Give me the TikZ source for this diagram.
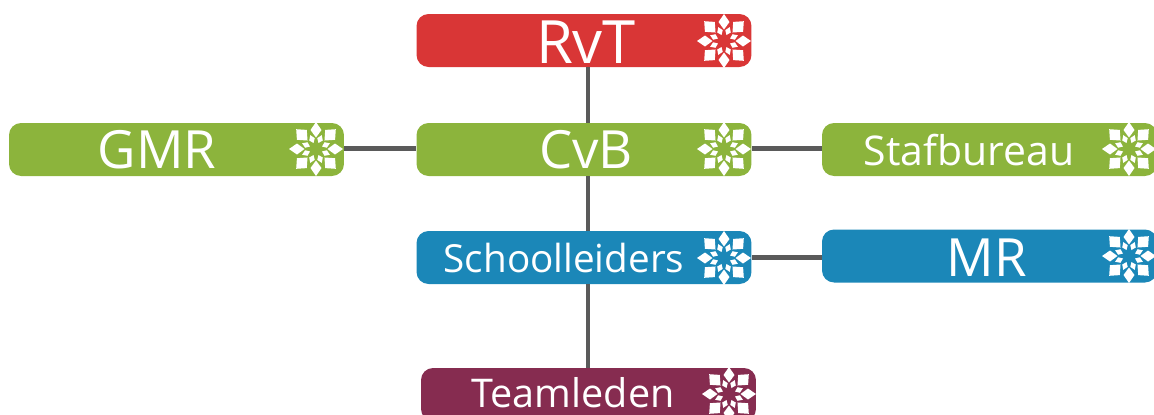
\documentclass[tikz,border=0pt]{standalone}
\usepackage{fontspec}
\setmainfont{Open Sans}
\definecolor{rvtred}{HTML}{D93636}
\definecolor{orggreen}{HTML}{8CB43C}
\definecolor{orgblue}{HTML}{1B87B8}
\definecolor{teampurple}{HTML}{862C50}
\definecolor{linkgrey}{HTML}{5A5A5A}
\tikzset{
  orgbox/.style={minimum width=6.7cm,minimum height=1.06cm,rounded corners=0.24cm,inner sep=0pt},
  bigtext/.style={text=white,inner sep=0pt,font=\fontsize{30}{30}\selectfont},
  smalltext/.style={text=white,inner sep=0pt,font=\fontsize{22}{22}\selectfont},
  link/.style={draw=linkgrey,line width=2.4pt},
  flake/.pic={
    \foreach \a in {0,90,180,270} {
      \fill[white,rotate=\a] (0,-27) -- (5.5,-19) -- (0,-11.5) -- (-5.5,-19) -- cycle;
      \fill[white,rotate=\a+45] (0,-28) -- (7,-20) -- (0,-12) -- (-7,-20) -- cycle;
    }
    \foreach \a in {0,45,...,315} {
      \fill[white,rotate=\a+22.5] (0,-15) -- (3,-10.5) -- (0,-6.5) -- (-3,-10.5) -- cycle;
    }
  }
}
\begin{document}
\begin{tikzpicture}[x=0.02cm,y=-0.02cm]
  \useasboundingbox (0,0) rectangle (1154,414);
  \clip (0,0) rectangle (1154,414);
  \coordinate (trunk) at (588,0);
  % boxes
  \node[orgbox,fill=rvtred] (rvt) at (584,40.5) {};
  \node[orgbox,fill=orggreen] (cvb) at (584,149.5) {};
  \node[orgbox,fill=orggreen] (gmr) at (176.5,149.5) {};
  \node[orgbox,fill=orggreen] (staf) at (989.5,149.5) {};
  \node[orgbox,fill=orgblue] (school) at (584,257.5) {};
  \node[orgbox,fill=orgblue] (mr) at (989.5,256) {};
  \node[orgbox,fill=teampurple] (team) at (588.5,394.5) {};
  % links
  \draw[link] (rvt.south -| trunk) -- (cvb.north -| trunk);
  \draw[link] (cvb.south -| trunk) -- (school.north -| trunk);
  \draw[link] (school.south -| trunk) -- (team.north -| trunk);
  \draw[link] ([yshift=0.02cm]gmr.east) -- ([yshift=0.02cm]cvb.west);
  \draw[link] ([yshift=0.02cm]cvb.east) -- ([yshift=0.02cm]staf.west);
  \draw[link] (school.east) -- (mr.west |- school.east);
  % labels
  \node[bigtext,font=\fontsize{34}{34}\selectfont] (rvtlabel) at (586,42) {RvT};
  \node[bigtext] (cvblabel) at (586,150) {CvB};
  \node[bigtext] (gmrlabel) at (157,150) {GMR};
  \node[bigtext] (mrlabel) at (987,258) {MR};
  \node[smalltext,font=\fontsize{23.3}{23.3}\selectfont] (staflabel) at (969,150) {Stafbureau};
  \node[smalltext] (schoollabel) at (564,258) {Schoolleiders};
  \node[smalltext,font=\fontsize{22.5}{22.5}\selectfont] (teamlabel) at (573,393) {Teamleden};
  % flakes
  \pic at (724,41) {flake};
  \pic at (724,149) {flake};
  \pic at (316,149) {flake};
  \pic at (1129,149) {flake};
  \pic at (724,258) {flake};
  \pic at (1129,256) {flake};
  \pic at (729,394) {flake};
\end{tikzpicture}
\end{document}
